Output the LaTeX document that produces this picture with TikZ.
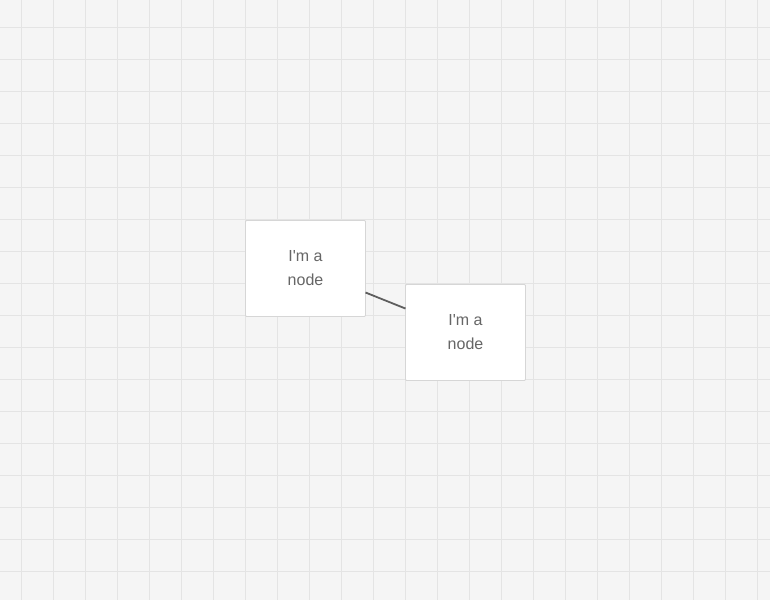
\documentclass[tikz,border=0pt]{standalone}
\usepackage{fontspec}
\setmainfont{Liberation Sans}
\usepackage{xcolor}
\usetikzlibrary{positioning}

\definecolor{canvasbg}{HTML}{F5F5F5}
\definecolor{gridgray}{HTML}{E4E4E4}
\definecolor{boxborder}{HTML}{D6D6D6}
\definecolor{labelgray}{HTML}{666666}
\definecolor{linkgray}{HTML}{5E5E5E}

\begin{document}
\begin{tikzpicture}[
    x=1pt, y=-1pt,
    every node/.style={font=\fontsize{16}{24}\selectfont},
    gridline/.style={draw=gridgray, line width=0.8pt},
    box/.style={draw=boxborder, fill=white, align=center, text=labelgray,
                minimum width=120pt, minimum height=96pt, rounded corners=1pt,
                inner sep=0pt, outer sep=0pt, line width=0.8pt},
    link/.style={draw=linkgray, line width=1.8pt},
]
% Canvas and background grid
\fill[canvasbg] (0,0) rectangle (770,600);
\useasboundingbox (0,0) rectangle (770,600);
\foreach \x in {21,53,...,757} \draw[gridline] (\x,0) -- (\x,600);
\foreach \y in {27,59,...,571} \draw[gridline] (0,\y) -- (770,\y);

% Nodes
\node[box] (first) at (305.5,268.5) {I\textquotesingle m a\\node};
\node[box] (second) [right=40pt of first, yshift=-64pt] {I\textquotesingle m a\\node};

% Connector
\draw[link] (first) -- (second);
\end{tikzpicture}
\end{document}
